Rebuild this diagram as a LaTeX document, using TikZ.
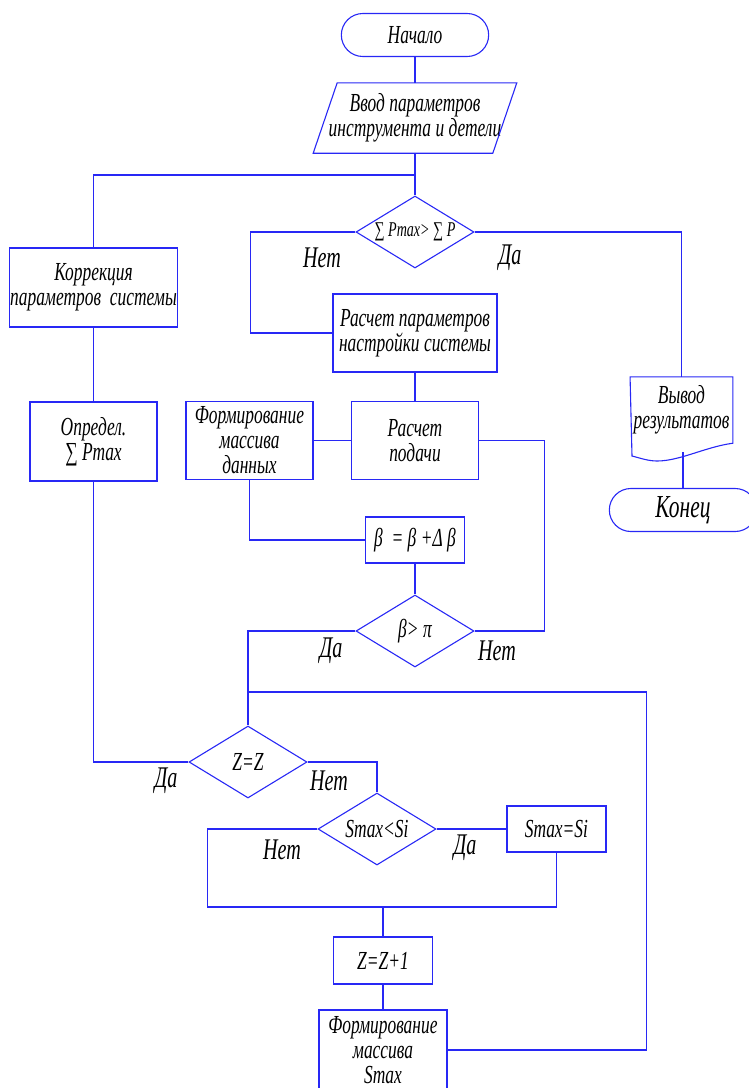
\documentclass[tikz,border=0pt]{standalone}
\usepackage{fontspec}
\setmainfont{Liberation Serif}[FakeStretch=0.67]
\usetikzlibrary{shapes.geometric, shapes.misc, positioning}
\definecolor{flowblue}{RGB}{40,40,245}

\begin{document}
\begin{tikzpicture}[x=1pt, y=-1pt,
    every node/.style={font=\itshape\fontsize{26}{25}\selectfont},
    line/.style={draw=flowblue, line width=1.1pt},
    box/.style={line, rectangle, align=center, inner sep=1pt},
    term/.style={line, rounded rectangle, minimum width=154pt, minimum height=43pt},
    cond/.style={line, diamond, aspect=1.6, inner sep=0pt, minimum width=118pt, minimum height=72pt},
    yesno/.style={font=\itshape\fontsize{30}{30}\selectfont}]
    \useasboundingbox (0,0) rectangle (749,1088);

    % Start and input
    \node[term] (start) at (415,35) {Начало};
    \node[align=center, minimum width=178pt, minimum height=70pt] (input) at (415,118) {Ввод параметров\\инструмента и детели};
    \draw[line] ([xshift=12pt]input.north west) -- ([xshift=12pt]input.north east)
        -- ([xshift=-12pt]input.south east) -- ([xshift=-12pt]input.south west) -- cycle;
    % First check
    \node[cond, font=\itshape\fontsize{21}{21}\selectfont] (chk) at (415,232) {∑ Pmax> ∑ P};
    % Left column
    \node[box, minimum width=164pt, minimum height=79pt] (corr) at (93.5,287.5) {Коррекция\\параметров\ \ системы};
    \node[box, minimum width=127pt, minimum height=79pt] (pmax) at (93.5,441.5) {Определ.\\∑ Pmax};
    % Middle column
    \node[box, minimum width=164pt, minimum height=78pt] (setup) at (415,333) {Расчет параметров\\настройки системы};
    \node[box, minimum width=127pt, minimum height=78pt] (arr) at (249.5,440.5) {Формирование\\массива\\данных};
    \node[box, minimum width=127pt, minimum height=78pt] (feed) at (415,440.5) {Расчет\\подачи};
    \node[box, minimum width=99pt, minimum height=46pt] (incb) at (415,540) {β\ \ = β +Δ β};
    \node[cond] (chkb) at (415,631) {β> π};
    % Lower part
    \node[cond] (chkz) at (248,762) {Z=Z};
    \node[cond] (chks) at (377,829) {Smax<Si};
    \node[box, minimum width=99pt, minimum height=46pt] (sets) at (556.5,829) {Smax=Si};
    \node[box, minimum width=99pt, minimum height=47pt] (incz) at (383,960.5) {Z=Z+1};
    \node[box, minimum width=128pt, minimum height=80pt] (arrs) at (383,1050) {Формирование\\массива\\Smax};
    % Output and end
    \node[align=center, minimum width=99pt, minimum height=66pt] (res) at (681.5,410) {Вывод\\результатов};
    \draw[line] (res.north west) -- (res.north east) -- (res.south east)
        .. controls (705,447) and (680,461) .. (657,461)
        .. controls (648,461) and (640,458) .. (632,456) -- cycle;
    \node[term, font=\itshape\fontsize{32}{32}\selectfont] (stop) at (683,510) {Конец};

    % Junction points
    \coordinate (fork) at (415,175);
    \coordinate (merge) at (248,692);
    \coordinate (join) at (383,907);
    \coordinate (resb) at (683,452);

    % Connectors
    \draw[line] (start.south) -- (input.north);
    \draw[line] (input.south) -- (chk.north);
    \draw[line] (fork) -| (corr.north);
    \draw[line] (chk.west) -- ++(-105,0) |- (setup.west);
    \draw[line] (chk.east) -| (res.north);
    \draw[line] (setup.south) -- (feed.north);
    \draw[line] (feed.west) -- (arr.east);
    \draw[line] (arr.south) |- (incb.west);
    \draw[line] (incb.south) -- (chkb.north);
    \draw[line] (feed.east) -- ++(65,0) |- (chkb.east);
    \draw[line] (chkb.west) -| (chkz.north);
    \draw[line] (corr.south) -- (pmax.north);
    \draw[line] (pmax.south) |- (chkz.west);
    \draw[line] (chkz.east) -| (chks.north);
    \draw[line] (chks.east) -- (sets.west);
    \draw[line] (chks.west) -- ++(-110,0) |- (join);
    \draw[line] (sets.south) |- (join);
    \draw[line] (join) -- (incz.north);
    \draw[line] (incz.south) -- (arrs.north);
    \draw[line] (arrs.east) -- ++(199,0) |- (merge);
    \draw[line] (resb) -- (stop.north);

    % Branch labels
    \node[yesno] (no1) at (322,258) {Нет};
    \node[yesno] (yes1) at (510,258) {Да};
    \node[yesno] (yes2) at (331,651) {Да};
    \node[yesno] (no2) at (497,651) {Нет};
    \node[yesno] (yes3) at (166,781) {Да};
    \node[yesno] (no3) at (329,781) {Нет};
    \node[yesno] (no4) at (282,850) {Нет};
    \node[yesno] (yes4) at (465,848) {Да};
\end{tikzpicture}
\end{document}
